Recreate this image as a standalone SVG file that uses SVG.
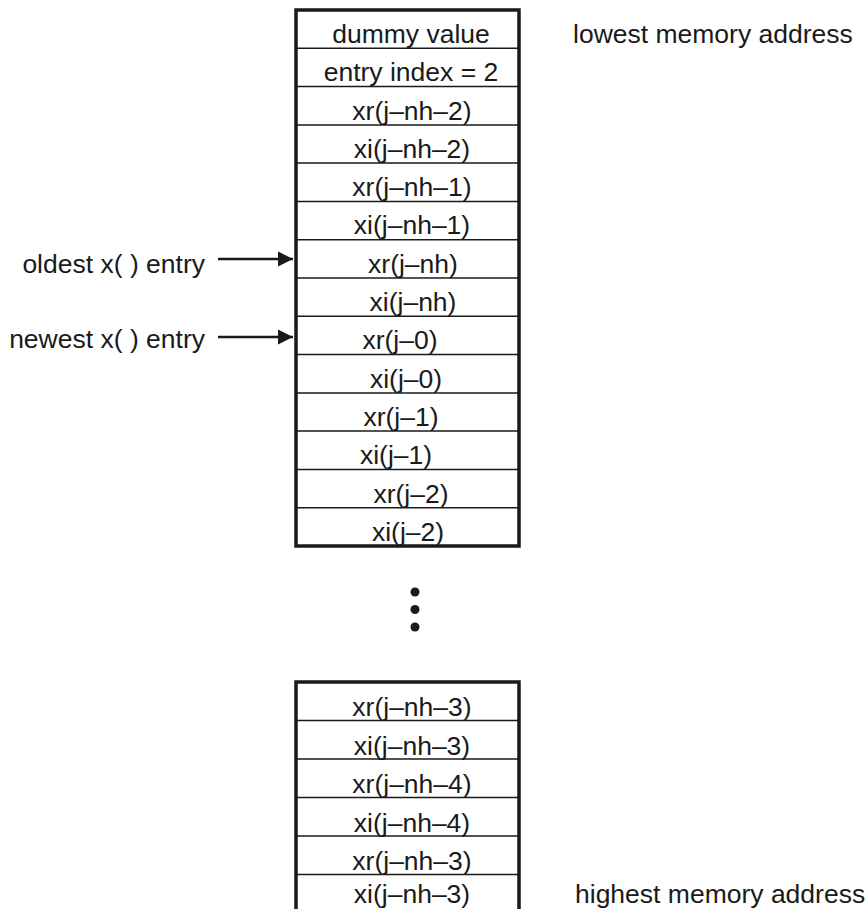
<svg xmlns="http://www.w3.org/2000/svg" width="867" height="909" viewBox="0 0 867 909">
<defs>
<style>
text{font-family:"Liberation Sans",Arial,sans-serif;font-size:26.5px;fill:#1a1a1a}
.c{text-anchor:middle}
.r{text-anchor:end}
.box{fill:#fff;stroke:#1a1a1a;stroke-width:3.5}
.div{stroke:#1a1a1a;stroke-width:1.5}
.arr{stroke:#1a1a1a;stroke-width:2.5;fill:none}
</style>
<marker id="ah" markerWidth="16" markerHeight="16" viewBox="0 0 16 16" refX="15" refY="8" orient="auto" markerUnits="userSpaceOnUse">
<path d="M0,0.5 L15,8 L0,15.5 Z" fill="#1a1a1a"/>
</marker>
</defs>
<g id="top-array">
<rect class="box" x="296" y="10" width="223" height="536"/>
<g class="div">
<line x1="296" y1="48.3" x2="519" y2="48.3"/>
<line x1="296" y1="86.6" x2="519" y2="86.6"/>
<line x1="296" y1="124.9" x2="519" y2="124.9"/>
<line x1="296" y1="163.1" x2="519" y2="163.1"/>
<line x1="296" y1="201.4" x2="519" y2="201.4"/>
<line x1="296" y1="239.7" x2="519" y2="239.7"/>
<line x1="296" y1="278" x2="519" y2="278"/>
<line x1="296" y1="316.3" x2="519" y2="316.3"/>
<line x1="296" y1="354.6" x2="519" y2="354.6"/>
<line x1="296" y1="392.9" x2="519" y2="392.9"/>
<line x1="296" y1="431.1" x2="519" y2="431.1"/>
<line x1="296" y1="469.4" x2="519" y2="469.4"/>
<line x1="296" y1="507.7" x2="519" y2="507.7"/>
</g>
<text class="c" x="411" y="43">dummy value</text>
<text class="c" x="411" y="81">entry index = 2</text>
<text class="c" x="412" y="119.5">xr(j–nh–2)</text>
<text class="c" x="412" y="157.5">xi(j–nh–2)</text>
<text class="c" x="412" y="196">xr(j–nh–1)</text>
<text class="c" x="412" y="234">xi(j–nh–1)</text>
<text class="c" x="413" y="272.5">xr(j–nh)</text>
<text class="c" x="413" y="311">xi(j–nh)</text>
<text class="c" x="400" y="349">xr(j–0)</text>
<text class="c" x="406" y="387.5">xi(j–0)</text>
<text class="c" x="401" y="426">xr(j–1)</text>
<text class="c" x="396" y="464">xi(j–1)</text>
<text class="c" x="411" y="502.5">xr(j–2)</text>
<text class="c" x="408" y="541">xi(j–2)</text>
</g>
<g id="ellipsis">
<circle cx="415" cy="592" r="4.5" fill="#1a1a1a"/>
<circle cx="415" cy="609.5" r="4.5" fill="#1a1a1a"/>
<circle cx="415" cy="627" r="4.5" fill="#1a1a1a"/>
</g>
<g id="bottom-array">
<path class="box" d="M296,915 V682 H519 V915"/>
<g class="div">
<line x1="296" y1="720.5" x2="519" y2="720.5"/>
<line x1="296" y1="759" x2="519" y2="759"/>
<line x1="296" y1="797.5" x2="519" y2="797.5"/>
<line x1="296" y1="836" x2="519" y2="836"/>
<line x1="296" y1="874.5" x2="519" y2="874.5"/>
</g>
<text class="c" x="412" y="716">xr(j–nh–3)</text>
<text class="c" x="412" y="754.5">xi(j–nh–3)</text>
<text class="c" x="412" y="793">xr(j–nh–4)</text>
<text class="c" x="412" y="831.5">xi(j–nh–4)</text>
<text class="c" x="412" y="870">xr(j–nh–3)</text>
<text class="c" x="412" y="903">xi(j–nh–3)</text>
</g>
<g id="label-lowest"><text x="573" y="43">lowest memory address</text></g>
<g id="label-highest"><text x="575" y="902.5">highest memory address</text></g>
<g id="label-oldest"><text class="r" x="205" y="272.5">oldest x( ) entry</text></g>
<g id="label-newest"><text class="r" x="205" y="348">newest x( ) entry</text></g>
<g id="connectors">
<line class="arr" x1="218" y1="259" x2="293" y2="259" marker-end="url(#ah)"/>
<line class="arr" x1="218" y1="337" x2="293" y2="337" marker-end="url(#ah)"/>
</g>
</svg>
